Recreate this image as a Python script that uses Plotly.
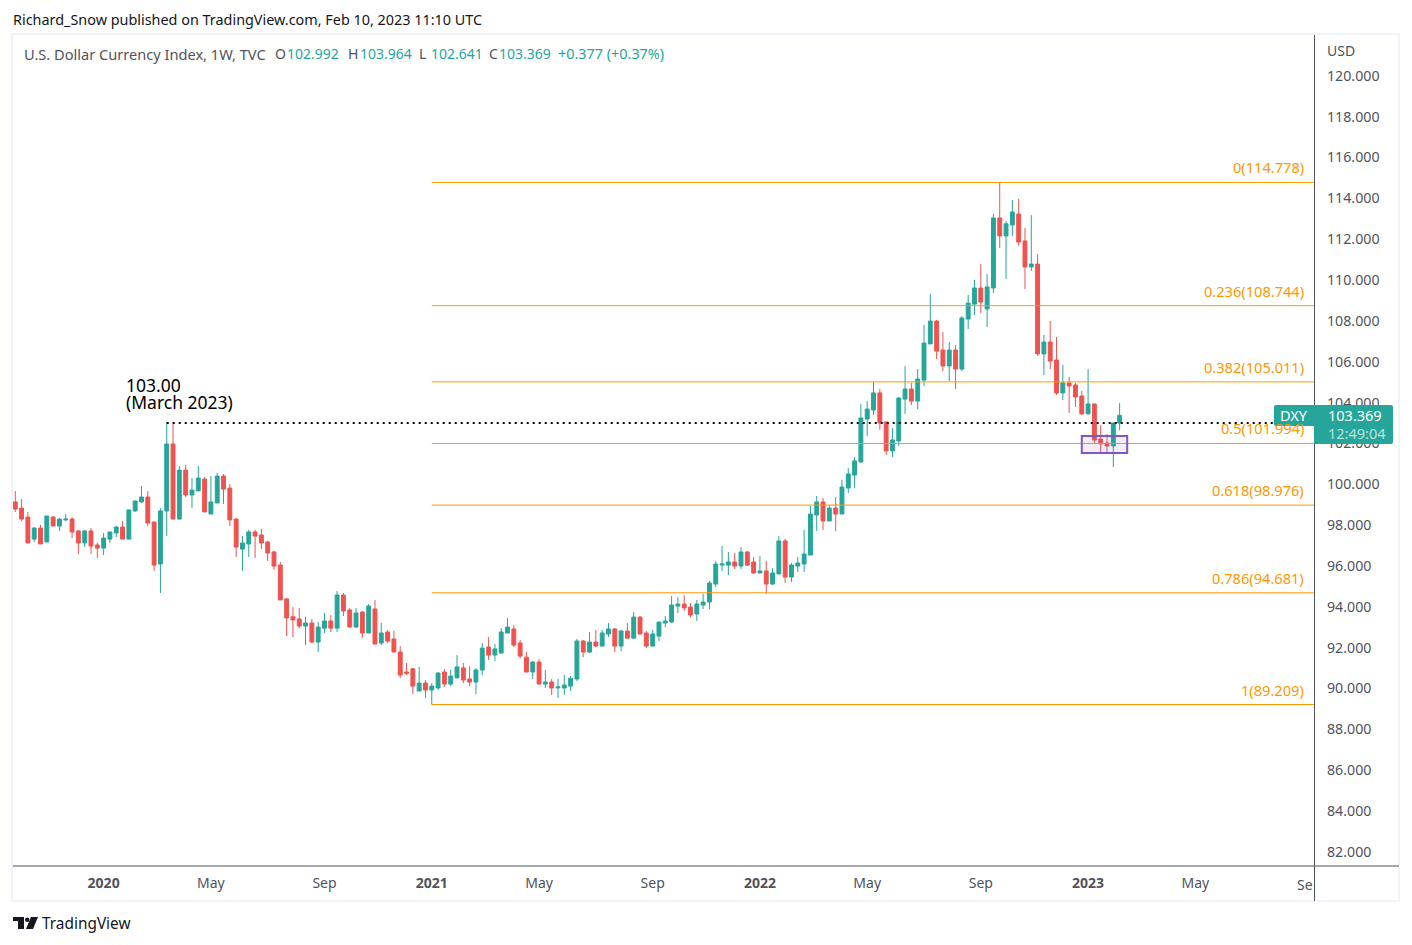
import pandas as pd
import plotly.graph_objects as go

# weekly DXY candles
opens = [99.13,98.83,98.39,97.31,97.85,97.17,98.39,97.95,98.25,98.29,
97.71,97.12,97.71,97.02,96.87,97.31,97.61,97.90,97.31,98.69,
99.13,99.37,98.15,96.09,98.69,101.97,98.29,100.69,99.47,99.67,
100.25,98.54,99.08,100.40,99.81,98.29,96.82,97.07,97.66,97.51,
97.17,96.68,96.04,94.38,93.51,93.40,93.05,93.20,92.27,92.95,
93.30,92.95,94.57,93.84,93.00,93.74,92.71,93.89,92.22,92.76,
92.42,91.78,90.80,90.96,89.87,90.26,89.92,90.02,90.80,90.21,
90.51,91.00,90.46,90.31,90.90,92.02,91.63,91.73,92.71,92.91,
92.22,91.53,90.80,91.29,90.21,90.31,90.02,90.02,90.11,90.46,
92.32,91.78,92.27,92.07,92.66,92.91,92.07,92.81,92.46,93.49,
92.71,92.07,92.56,93.20,93.25,94.03,94.13,93.98,93.64,94.08,
94.23,95.11,96.04,96.04,96.19,95.99,96.68,96.19,95.65,95.75,
95.11,95.60,97.22,95.45,95.99,96.09,96.53,98.49,99.13,98.20,
98.83,98.54,99.81,100.45,101.09,103.19,103.63,104.47,103.05,101.63,
102.12,104.17,104.66,104.07,105.10,106.87,107.99,106.57,105.79,106.57,
105.64,108.09,108.82,109.61,108.58,109.61,113.04,112.16,112.70,113.23,
111.91,110.64,110.78,106.38,106.96,106.08,104.47,104.96,104.86,104.32,
103.44,103.93,102.21,102.02,101.87,102.992]
highs = [99.67,99.27,98.64,97.90,98.00,98.44,98.44,98.34,98.54,98.39,
97.76,97.76,97.85,97.12,97.61,97.66,97.95,98.20,98.74,99.18,
99.91,99.67,98.15,98.83,103.05,103.05,100.89,100.94,100.30,100.89,
100.35,100.40,100.55,100.50,100.01,98.34,97.46,97.76,97.76,97.81,
97.22,96.73,96.19,94.43,93.98,93.93,93.51,93.40,93.25,93.69,
93.59,94.77,94.67,93.93,93.93,93.79,94.13,94.33,93.20,92.86,
92.81,92.07,91.24,90.96,91.05,90.41,90.26,90.80,90.95,90.90,
91.63,91.24,91.09,91.00,92.22,92.51,92.17,92.95,93.44,93.10,
92.37,91.78,91.34,91.44,90.90,90.46,90.46,90.65,90.60,92.42,
92.37,92.76,92.86,92.86,93.20,92.95,92.86,93.20,93.74,93.54,
92.81,92.86,93.25,93.54,94.52,94.47,94.57,94.18,94.33,94.62,
95.26,96.24,96.97,96.68,96.63,96.92,96.73,96.43,96.48,96.24,
95.89,97.46,97.32,96.14,96.43,97.76,98.93,99.42,99.32,98.98,
99.37,100.21,100.79,101.33,103.93,104.08,105.01,104.66,103.05,102.75,
104.27,105.79,104.97,105.64,107.80,109.32,108.04,107.45,106.96,106.82,
108.24,109.27,110.00,110.79,110.30,113.23,114.78,112.89,113.92,113.97,
112.55,113.18,111.27,107.31,107.99,107.21,105.84,105.25,104.96,104.56,
105.64,103.93,102.90,102.46,103.00,103.964]
lows = [98.64,98.20,97.12,97.17,97.07,97.17,97.95,97.71,98.20,97.36,
96.58,96.92,96.58,96.38,96.53,97.12,97.41,97.31,97.31,98.64,
99.08,97.95,95.75,94.67,97.46,98.29,98.29,99.37,98.83,99.67,
98.64,98.54,99.08,99.03,97.95,96.43,95.75,96.43,96.38,96.83,
96.24,95.80,94.33,92.56,92.51,92.95,92.12,92.22,91.78,92.71,
92.76,92.76,93.54,93.00,93.00,92.47,92.71,92.17,92.12,92.22,
91.78,90.51,90.65,89.72,89.87,89.53,89.21,89.92,90.07,90.11,
90.51,90.26,90.11,89.72,90.65,91.39,91.34,91.73,92.71,92.02,
91.48,90.80,90.46,90.21,90.02,89.67,89.53,89.67,89.87,90.36,
91.53,91.73,92.02,92.07,92.51,91.78,91.83,92.46,92.46,92.66,
91.97,92.07,92.32,93.00,93.20,93.69,93.79,93.49,93.30,93.88,
93.88,94.96,95.75,95.55,95.85,95.85,95.99,95.60,95.65,94.62,
95.06,95.60,95.16,95.21,95.70,95.70,96.53,97.71,97.76,98.20,
97.71,98.54,99.57,99.81,101.04,102.36,103.39,102.66,101.43,101.33,
101.87,103.44,103.88,103.68,104.81,106.87,106.13,105.54,105.05,104.66,
105.54,107.60,108.29,108.38,107.70,109.36,111.57,110.05,112.16,111.67,
109.56,110.44,106.28,105.35,105.64,104.37,104.12,103.49,103.78,103.39,
103.44,102.02,101.53,101.53,100.84,102.641]
closes = [98.78,98.29,97.12,97.85,97.07,98.44,97.95,98.29,98.29,97.66,
97.12,97.71,96.97,96.87,97.36,97.66,97.90,97.31,98.74,99.18,
99.37,98.10,96.04,98.69,101.97,98.29,100.69,99.47,99.71,100.30,
98.64,99.13,100.40,99.76,98.25,96.92,97.12,97.66,97.46,97.12,
96.63,95.99,94.33,93.45,93.35,93.05,93.20,92.27,93.00,93.30,
92.95,94.57,93.79,93.00,93.69,92.71,94.03,92.17,92.71,92.32,
91.78,90.65,90.75,90.11,90.26,89.92,90.11,90.75,90.21,90.60,
91.05,90.41,90.31,90.90,91.97,91.63,91.93,92.76,93.00,92.12,
91.58,90.80,91.29,90.21,90.31,90.02,90.07,90.16,90.50,92.32,
91.78,92.27,92.07,92.71,92.91,92.07,92.81,92.46,93.49,92.66,
92.07,92.66,93.25,93.30,94.08,94.13,93.94,93.59,94.13,94.23,
95.16,96.09,96.09,96.19,95.99,96.68,96.04,95.65,95.75,95.11,
95.65,97.22,95.45,96.04,96.14,96.58,98.54,99.13,98.20,98.83,
98.54,99.86,100.50,101.14,103.24,103.68,104.47,103.00,101.63,102.17,
104.22,104.66,104.07,105.15,106.91,107.99,106.52,105.79,106.57,105.64,
108.14,108.87,109.61,108.92,109.66,113.04,112.16,112.75,113.33,111.86,
110.64,110.78,106.38,106.96,106.03,104.47,104.96,104.81,104.27,103.44,
103.93,102.16,101.97,101.87,103.00,103.369]

fib_ratios = ["0", "0.236", "0.382", "0.5", "0.618", "0.786", "1"]
fib_levels = [114.778, 108.744, 105.011, 101.994, 98.976, 94.681, 89.209]
resistance = 103.0
box_low, box_high = 101.53, 102.36
y_ticks = list(range(82, 122, 2))
x_tick_dates = ["2020-01-06", "2020-05-04", "2020-09-07", "2021-01-04", "2021-05-03", "2021-09-06",
                "2022-01-03", "2022-05-02", "2022-09-05", "2023-01-02", "2023-05-01"]
x_tick_text = ["<b>2020</b>", "May", "Sep", "<b>2021</b>", "May", "Sep",
               "<b>2022</b>", "May", "Sep", "<b>2023</b>", "May"]

dates = pd.date_range("2019-09-30", periods=len(opens), freq="7D")
week = pd.Timedelta(days=7)
x_start = dates[0] - 0.36 * week
x_end = dates[0] + 205.8 * week

FONT = "Noto Sans"
TEXT = "#50535e"
TEAL = "#26a69a"
RED = "#ef5350"
ORANGE = "#ff9800"
W, H = 1412, 945
L, R, T, B = 13, 1314, 35, 866


def px(x):
    return (x - L) / (R - L)


def py(y):
    return (B - y) / (B - T)


fig = go.Figure()
for lvl in fib_levels:
    fig.add_trace(go.Scatter(x=[pd.Timestamp("2021-01-04"), x_end], y=[lvl, lvl], mode="lines",
                             line=dict(color=ORANGE, width=1), hoverinfo="skip"))
fig.add_trace(go.Candlestick(x=dates, open=opens, high=highs, low=lows, close=closes,
                             increasing=dict(line=dict(color=TEAL, width=1), fillcolor=TEAL),
                             decreasing=dict(line=dict(color=RED, width=1), fillcolor=RED),
                             whiskerwidth=0))
fig.add_trace(go.Scatter(x=[dates[24], x_end], y=[resistance, resistance], mode="lines",
                         line=dict(color="#000000", width=2, dash="2px,4px"), hoverinfo="skip"))


def label(x, y, text, size=14, color=TEXT, anchor="left"):
    # annotations carry about 2px of padding, so shift it away
    fig.add_annotation(x=px(x), y=py(y), xref="paper", yref="paper", text=text, showarrow=False,
                       xanchor=anchor, yanchor="middle", xshift=-2 if anchor == "left" else 2, align=anchor,
                       font=dict(family=FONT, size=size, color=color))


def box(x0, y0, x1, y1, color):
    fig.add_shape(type="rect", xref="paper", yref="paper", x0=px(x0), x1=px(x1), y0=py(y0), y1=py(y1),
                  fillcolor=color, line=dict(width=0), layer="above")


def tag_path(points):
    cmds = []
    for cmd, *xy in points:
        coords = " ".join(f"{px(xy[i])},{py(xy[i + 1])}" for i in range(0, len(xy), 2))
        cmds.append(f"{cmd} {coords}")
    return " ".join(cmds) + " Z"


# purple box around the 50% retracement
fig.add_shape(type="rect", xref="x", yref="y", x0=dates[169], x1=dates[175] + 1.2 * week,
              y0=box_low, y1=box_high, fillcolor="rgba(126,87,194,0.1)",
              line=dict(color="#7e57c2", width=2), layer="above")

# frame
fig.add_shape(type="rect", xref="paper", yref="paper", x0=px(12), x1=px(1399), y0=py(901), y1=py(34),
              line=dict(color="#f0f3fa", width=2), layer="below")
fig.add_shape(type="line", xref="paper", yref="paper", x0=px(13), x1=px(1399), y0=py(866), y1=py(866),
              line=dict(color="#50535e", width=1), layer="above")
fig.add_shape(type="line", xref="paper", yref="paper", x0=px(1314.5), x1=px(1314.5), y0=py(35), y1=py(901),
              line=dict(color="#50535e", width=1), layer="above")

# last price tag, rounded corners
fig.add_shape(type="path", xref="paper", yref="paper", fillcolor=TEAL, line=dict(width=0), layer="above",
              path=tag_path([("M", 1276, 405), ("L", 1391, 405), ("Q", 1393, 405, 1393, 407),
                             ("L", 1393, 442), ("Q", 1393, 444, 1391, 444), ("L", 1316, 444),
                             ("Q", 1314, 444, 1314, 442), ("L", 1314, 426), ("L", 1276, 426),
                             ("Q", 1274, 426, 1274, 424), ("L", 1274, 407), ("Q", 1274, 405, 1276, 405)]))
label(1280, 415, "DXY", size=14.5, color="#ffffff")
label(1328, 415, "103.369", size=14.5, color="#ffffff")
label(1328, 432.5, "12:49:04", size=14.5, color="rgba(255,255,255,0.7)")

for ratio, lvl in zip(fib_ratios, fib_levels):
    fig.add_annotation(x=px(1304), xref="paper", y=lvl, yref="y", text=f"{ratio}({lvl:.3f})", showarrow=False,
                       xanchor="right", yanchor="middle", yshift=15, xshift=2,
                       font=dict(family=FONT, size=14.6, color=ORANGE))

label(126, 385, "103.00", size=17.5, color="#000000")
label(126, 402, "(March 2023)", size=17.5, color="#000000")

label(13, 19, "Richard_Snow published on TradingView.com, Feb 10, 2023 11:10 UTC", size=14.4, color="#131722")
label(24, 53.5, "U.S. Dollar Currency Index, 1W, TVC", size=14.6)
label(275, 53.5, "O")
label(287, 53.5, "102.992", color=TEAL)
label(348, 53.5, "H")
label(360, 53.5, "103.964", color=TEAL)
label(419, 53.5, "L")
label(431, 53.5, "102.641", color=TEAL)
label(489, 53.5, "C")
label(499, 53.5, "103.369", color=TEAL)
label(558, 53.5, "+0.377 (+0.37%)", size=14.4, color=TEAL)
label(1327, 50, "USD")
label(1313, 884, "Se", anchor="right")

# TradingView logo
box(13, 917, 24, 921, "#131722")
box(18, 917, 24, 929, "#131722")
fig.add_shape(type="circle", xref="paper", yref="paper", x0=px(25), x1=px(29.5), y0=py(922), y1=py(917.5),
              fillcolor="#131722", line=dict(width=0), layer="above")
fig.add_shape(type="path", xref="paper", yref="paper",
              path=f"M {px(31)},{py(917)} L {px(38)},{py(917)} L {px(33)},{py(929)} L {px(26)},{py(929)} Z",
              fillcolor="#131722", line=dict(width=0), layer="above")
label(42, 923, "TradingView", size=15.4, color="#131722")

fig.update_xaxes(type="date", range=[x_start, x_end], tickmode="array", tickvals=x_tick_dates,
                 ticktext=x_tick_text, showgrid=False, zeroline=False, showline=False, ticks="",
                 rangeslider_visible=False, tickfont=dict(family=FONT, size=14, color=TEXT),
                 ticklabelstandoff=7)
fig.update_yaxes(range=[81.3, 122.0], side="right", tickmode="array", tickvals=y_ticks,
                 tickformat=".3f", showgrid=False, zeroline=False, showline=False, ticks="",
                 tickfont=dict(family=FONT, size=14.2, color=TEXT), ticklabelstandoff=12)
fig.update_layout(width=W, height=H, margin=dict(l=L, r=W - R, t=T, b=H - B), showlegend=False,
                  paper_bgcolor="#ffffff", plot_bgcolor="#ffffff", dragmode=False, boxgap=0.12)
fig.write_html("out.html", config={"displayModeBar": False},
               post_script="document.body.style.margin='0';")
